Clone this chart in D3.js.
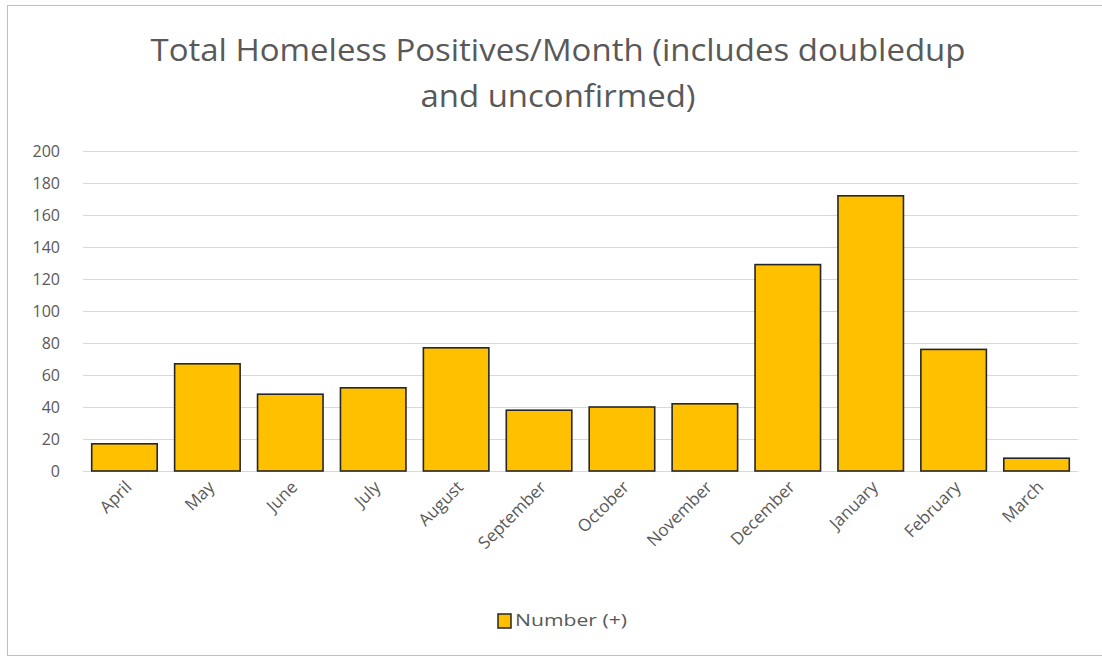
<!DOCTYPE html>
<html>
<head>
<meta charset="utf-8">
<script src="https://cdn.jsdelivr.net/npm/d3@7"></script>
<style>
  body { margin: 0; background: #fff; }
  text { font-family: "Open Sans", "Liberation Sans", sans-serif; fill: #595959; }
</style>
</head>
<body>
<script>
var months = ["April", "May", "June", "July", "August", "September", "October",
  "November", "December", "January", "February", "March"]
var counts = [17, 67, 48, 52, 77, 38, 40, 42, 129, 172, 76, 8]
var yTicks = [0, 20, 40, 60, 80, 100, 120, 140, 160, 180, 200]
var titleLines = ["Total Homeless Positives/Month (includes doubledup", "and unconfirmed)"]
var seriesName = "Number (+)"

var width = 1102, height = 658
var plotLeft = 83, plotRight = 1078, plotTop = 151, plotBottom = 471

const svg = d3.select("body").append("svg")
  .attr("width", width)
  .attr("height", height)

// frame
svg.append("rect")
  .attr("x", 7.5)
  .attr("y", 5.5)
  .attr("width", 1100)
  .attr("height", 650)
  .attr("fill", "white")
  .attr("stroke", "#bfbfbf")

var x = d3.scaleBand()
  .domain(months)
  .range([plotLeft, plotRight])
  .paddingInner(0.21)
  .paddingOuter(0.105)

var y = d3.scaleLinear()
  .domain([0, 200])
  .range([plotBottom, plotTop])

//title
svg.append("g").selectAll("text")
  .data(titleLines)
  .join("text")
  .attr("x", 558)
  .attr("y", (d, i) => 61 + i * 46)
  .attr("text-anchor", "middle")
  .attr("font-size", "31px")
  .attr("textLength", (d, i) => i == 0 ? 815 : 275)
  .attr("lengthAdjust", "spacingAndGlyphs")
  .text(d => d)

//gridlines
svg.append("g").selectAll("line")
  .data(yTicks)
  .join("line")
  .attr("x1", plotLeft)
  .attr("x2", plotRight)
  .attr("y1", d => y(d) + 0.5)
  .attr("y2", d => y(d) + 0.5)
  .attr("stroke", "#d9d9d9")
  .attr("stroke-width", 1.2)

//y axis labels
svg.append("g").selectAll("text")
  .data(yTicks)
  .join("text")
  .attr("x", 60)
  .attr("y", d => y(d))
  .attr("dy", "0.35em")
  .attr("text-anchor", "end")
  .attr("font-size", "16px")
  .text(d => d)

//bars
svg.append("g").selectAll("rect")
  .data(counts)
  .join("rect")
  .attr("x", (d, i) => x(months[i]))
  .attr("y", d => y(d))
  .attr("width", x.bandwidth())
  .attr("height", d => y(0) - y(d))
  .attr("fill", "#FFC000")
  .attr("stroke", "#262626")
  .attr("stroke-width", 1.6)

//x labels
svg.append("g").selectAll("text")
  .data(months)
  .join("text")
  .attr("transform", d => "translate(" + (x(d) + x.bandwidth() / 2 + 4) + "," + (plotBottom + 13) + ") rotate(-45)")
  .attr("text-anchor", "end")
  .attr("dy", "0.35em")
  .attr("font-size", "17px")
  .text(d => d)

//legend
var lg = svg.append("g")
lg.append("rect")
  .attr("x", 498)
  .attr("y", 614)
  .attr("width", 13)
  .attr("height", 14)
  .attr("fill", "#FFC000")
  .attr("stroke", "#262626")
  .attr("stroke-width", 1.5)
lg.append("text")
  .attr("x", 515)
  .attr("y", 620)
  .attr("dy", "0.35em")
  .attr("font-size", "17px")
  .attr("textLength", 112)
  .attr("lengthAdjust", "spacingAndGlyphs")
  .text(seriesName)
</script>
</body>
</html>
